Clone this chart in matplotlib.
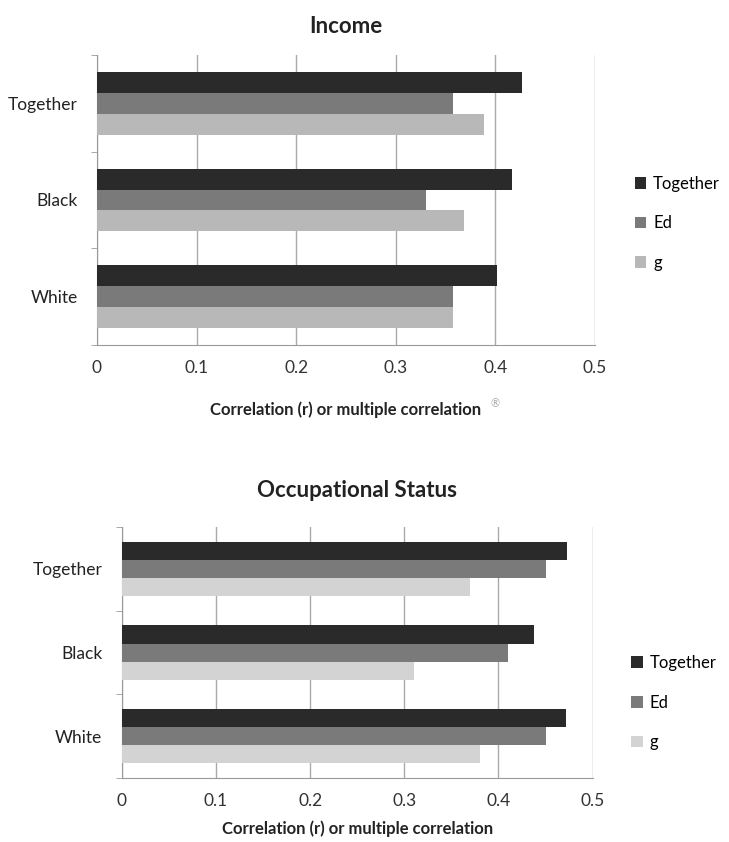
import numpy as np
import matplotlib
matplotlib.use("Agg")
import matplotlib.pyplot as plt

plt.rcParams['font.family'] = ['Lato', 'DejaVu Sans']

groups = ["Together", "Black", "White"]
series = ["Together", "Ed", "g"]

income_together = [0.427, 0.417, 0.402]
income_ed = [0.358, 0.330, 0.358]
income_g = [0.389, 0.369, 0.358]

occ_together = [0.473, 0.438, 0.472]
occ_ed = [0.450, 0.410, 0.450]
occ_g = [0.370, 0.310, 0.380]

xticks = [0, 0.1, 0.2, 0.3, 0.4, 0.5]
xticklabels = ["0", "0.1", "0.2", "0.3", "0.4", "0.5"]

fig = plt.figure(figsize=(7.29, 8.42), dpi=100)


def draw(ax, vals, colors, title, title_pad, leg_y, label_pad):
    bh = 0.216
    y = np.arange(len(groups))
    offsets = [-bh, 0, bh]
    for v, c, off, name in zip(vals, colors, offsets, series):
        ax.barh(y + off, v, height=bh, color=c, label=name, zorder=3)
    ax.set_ylim(2.5, -0.5)
    ax.set_xlim(0, 0.5)
    ax.set_xticks(xticks)
    ax.set_xticklabels(xticklabels, fontsize=12.5, color="#333333")
    ax.set_yticks(y)
    ax.set_yticklabels(groups, fontsize=12.5, color="#222222")
    ax.set_yticks([-0.5, 0.5, 1.5, 2.5], minor=True)
    ax.tick_params(axis="y", which="major", length=0, pad=14)
    ax.tick_params(axis="y", which="minor", length=4, color="#999999")
    ax.tick_params(axis="x", length=0, pad=11)
    ax.grid(axis="x", color="#aaaaaa", linewidth=1, zorder=0)
    for s in ["top", "right"]:
        ax.spines[s].set_visible(False)
    ax.spines["left"].set_color("#999999")
    ax.spines["bottom"].set_color("#999999")
    ax.set_title(title, fontsize=16, fontweight="bold", color="#222222", pad=title_pad)
    ax.set_xlabel("Correlation (r) or multiple correlation", fontsize=12,
                  fontweight="bold", color="#222222", labelpad=label_pad)
    ax.legend(loc="center left", bbox_to_anchor=(1.05, leg_y), frameon=False,
              fontsize=12, handlelength=0.7, handleheight=0.7,
              handletextpad=0.4, labelspacing=1.42)


ax1 = fig.add_axes([0.133, 0.590, 0.683, 0.345])
draw(ax1, [income_together, income_ed, income_g],
     ["#2a2a2a", "#7a7a7a", "#b8b8b8"], "Income", 16, 0.42, 18)
fig.text(0.673, 0.516, "\u00ae", fontsize=8, color="#aaaaaa")

ax2 = fig.add_axes([0.167, 0.076, 0.646, 0.298])
draw(ax2, [occ_together, occ_ed, occ_g],
     ["#2a2a2a", "#7a7a7a", "#d3d3d3"], "Occupational Status", 22, 0.30, 8)

fig.savefig("out.png", dpi=100)
